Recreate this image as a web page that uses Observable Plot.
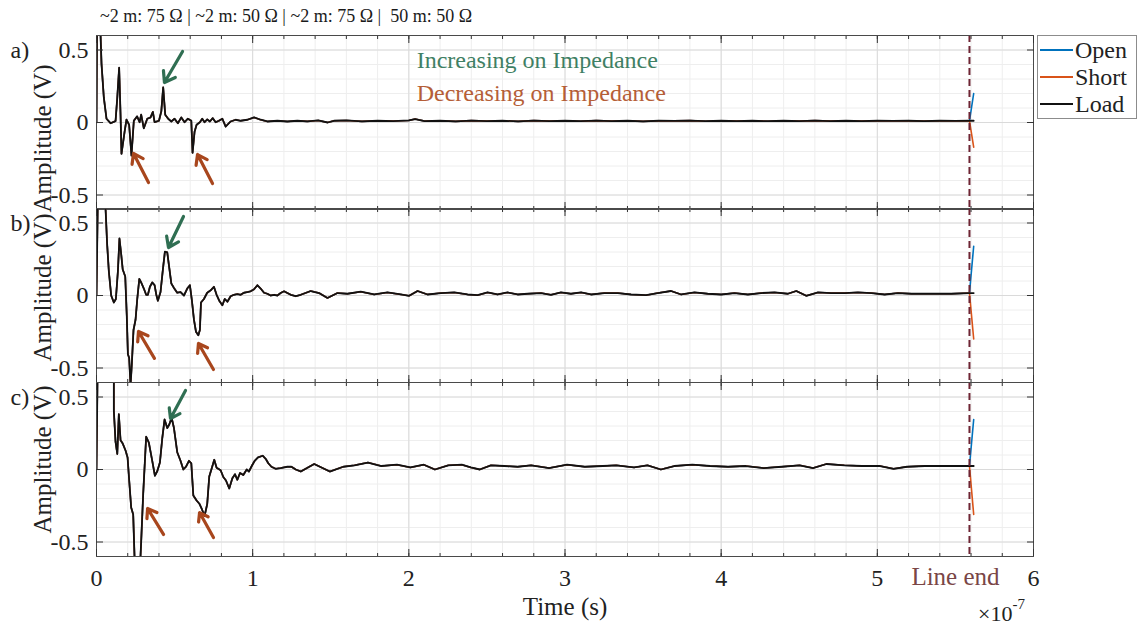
<!DOCTYPE html>
<html><head><meta charset="utf-8">
<script src="https://cdn.jsdelivr.net/npm/d3@7"></script>
<script src="https://cdn.jsdelivr.net/npm/@observablehq/plot@0.6"></script>
<style>
html,body{margin:0;padding:0;background:#fff;}
#root{position:relative;width:1141px;height:625px;overflow:hidden;font-family:"Liberation Serif",serif;color:#222;}
.panel{position:absolute;left:0;}
.panel svg{overflow:visible;}
#toptext{position:absolute;left:100px;top:6px;font-size:18px;white-space:pre;color:#1a1a1a;}
#toptext span.sep{color:#1a1a1a;}
#legend{position:absolute;left:1037px;top:35px;width:100px;height:84px;border:1px solid #8c8c8c;background:#fff;box-sizing:border-box;}
.lg{position:absolute;left:2px;height:26px;display:flex;align-items:center;font-size:24px;}
.lg span.sw{display:inline-block;width:33px;height:2px;margin-right:2px;}
#xexp{position:absolute;left:978px;top:601px;font-size:22px;line-height:1;white-space:nowrap;}
#xexp sup{font-size:15px;position:relative;top:-4px;}
</style></head>
<body><div id="root"></div>
<script>
// ---------- data ----------
const topSegments = ["~2 m: 75 Ω", "~2 m: 50 Ω", "~2 m: 75 Ω", " 50 m: 50 Ω"];
const panelLabels = ["a)", "b)", "c)"];
const seriesNames = ["Open", "Short", "Load"];
const seriesColors = ["#0072BD", "#D95319", "#111111"];
const xTicks = [0, 1, 2, 3, 4, 5, 6];
const xMinorTicks = d3.range(0, 6.0001, 0.2).map(d => +d.toFixed(1));
const yTicks = [-0.5, 0, 0.5];
const yMinorTicks = [-0.6,-0.5,-0.4,-0.3,-0.2,-0.1,0,0.1,0.2,0.3,0.4,0.5,0.6];
const lineEnd = 5.59;           // ×1e-7 s
const annotTexts = ["Increasing on Impedance", "Decreasing on Impedance"];
const xLabel = "Time (s)";
const yLabel = "Amplitude (V)";

// time in units of 1e-7 s, amplitude in V
const tA = [0,0.004,0.02,0.032,0.047,0.064,0.09,0.122,0.133,0.145,0.154,0.16,0.18,0.192,0.209,0.224,0.239,0.26,0.276,0.286,0.303,0.325,0.346,0.361,0.372,0.4,0.415,0.427,0.44,0.459,0.479,0.5,0.521,0.543,0.564,0.585,0.607,0.615,0.628,0.641,0.662,0.677,0.692,0.709,0.726,0.744,0.763,0.784,0.806,0.827,0.859,0.891,0.923,0.966,1.009,1.051,1.094,1.158,1.222,1.286,1.35,1.42,1.48,1.52,1.6,1.7,1.8,1.9,2.0,2.04,2.1,2.2,2.3,2.4,2.5,2.6,2.7,2.8,2.9,3.0,3.1,3.2,3.3,3.4,3.5,3.6,3.7,3.8,3.9,4.0,4.1,4.2,4.3,4.4,4.5,4.6,4.7,4.8,4.9,5.0,5.1,5.2,5.3,5.4,5.5,5.59,5.617];
const loadA = [0,0.8,0.8,0.406,0.171,0.026,-0.005,0.01,0.17,0.378,0.05,-0.216,-0.063,0.02,-0.016,-0.228,0.012,0.042,0.002,0.054,-0.04,0.026,0.035,0.073,0.002,0.012,0.077,0.242,0.054,0.026,0.007,0.026,-0.005,0.035,0.002,0.026,0.012,-0.209,-0.063,-0.016,0.002,0.026,0.002,0.021,0.007,0.03,0.002,0.012,0.026,-0.028,0.007,0.019,0.012,0.019,0.035,0.019,0.007,0.012,0.007,0.012,0.008,0.014,0.0,0.012,0.014,0.008,0.012,0.01,0.014,0.024,0.01,0.012,0.008,0.013,0.01,0.012,0.008,0.013,0.01,0.012,0.009,0.013,0.01,0.012,0.008,0.012,0.011,0.013,0.009,0.012,0.01,0.012,0.009,0.012,0.01,0.013,0.01,0.012,0.01,0.012,0.011,0.012,0.01,0.012,0.011,0.012,0.012];

const tB = [0,0.01,0.05,0.058,0.068,0.079,0.094,0.111,0.124,0.137,0.147,0.158,0.168,0.184,0.194,0.201,0.209,0.218,0.226,0.237,0.25,0.261,0.274,0.286,0.303,0.318,0.329,0.342,0.357,0.372,0.383,0.393,0.41,0.425,0.438,0.453,0.466,0.479,0.496,0.517,0.538,0.56,0.581,0.598,0.611,0.624,0.637,0.652,0.662,0.669,0.688,0.709,0.731,0.752,0.769,0.786,0.806,0.821,0.838,0.859,0.88,0.902,0.923,0.944,0.966,0.987,1.009,1.03,1.051,1.073,1.094,1.115,1.137,1.158,1.179,1.201,1.222,1.244,1.276,1.308,1.372,1.425,1.479,1.543,1.607,1.692,1.778,1.863,1.949,2.002,2.056,2.12,2.205,2.291,2.376,2.44,2.504,2.568,2.632,2.697,2.761,2.846,2.91,2.974,3.038,3.103,3.167,3.252,3.338,3.423,3.519,3.594,3.679,3.744,3.829,3.915,4.0,4.085,4.171,4.256,4.342,4.427,4.481,4.545,4.62,4.705,4.791,4.876,4.962,5.047,5.132,5.218,5.303,5.389,5.474,5.59,5.617];
const loadB = [0,0.8,0.8,0.6,0.357,0.167,0,-0.048,-0.024,0.167,0.393,0.286,0.179,0.131,-0.143,-0.405,-0.429,-0.62,-0.476,-0.238,-0.167,-0.024,0.114,0.09,0.048,0.005,0.005,0.06,0.09,0.071,0.005,-0.036,0.024,0.179,0.302,0.298,0.19,0.083,0.052,0.019,0.024,0,0.048,0.071,-0.036,-0.167,-0.25,-0.274,-0.238,-0.048,-0.024,0.019,0.036,0.06,0.005,-0.036,-0.067,-0.024,-0.043,-0.005,0.005,0.01,0.005,0.019,0.024,0.029,0.043,0.071,0.048,0.019,0.012,0,0.005,0,0.017,0.029,0.017,0.005,-0.005,0.005,0.031,0.017,-0.017,0.017,0.012,0.026,0.007,0.021,0.007,-0.002,0.031,0.007,0.017,0.021,0.007,0.002,0.021,0.007,0.021,0.007,0.012,0.017,0.005,0.021,0.012,0.021,0.007,0.017,0.017,0.007,0.002,0.017,0.031,0.007,0.021,0.012,0.007,0.017,0.007,0.017,0.021,0.012,0.031,-0.002,0.021,0.017,0.017,0.021,0.017,0.007,0.017,0.012,0.012,0.012,0.012,0.017,0.017];

const tC = [0,0.008,0.111,0.111,0.122,0.133,0.143,0.154,0.168,0.186,0.199,0.209,0.222,0.235,0.246,0.278,0.286,0.299,0.318,0.335,0.357,0.374,0.389,0.406,0.421,0.436,0.453,0.466,0.481,0.496,0.517,0.538,0.556,0.573,0.592,0.607,0.62,0.641,0.66,0.675,0.692,0.709,0.722,0.739,0.754,0.769,0.795,0.812,0.829,0.85,0.87,0.887,0.902,0.919,0.94,0.962,0.976,0.994,1.013,1.034,1.064,1.085,1.1,1.12,1.147,1.179,1.222,1.248,1.276,1.308,1.394,1.494,1.58,1.652,1.738,1.824,1.924,2.01,2.096,2.167,2.253,2.339,2.397,2.454,2.526,2.612,2.697,2.783,2.898,3.013,3.127,3.242,3.328,3.442,3.528,3.614,3.7,3.815,3.929,4.044,4.158,4.273,4.388,4.502,4.588,4.674,4.789,4.903,5.018,5.104,5.19,5.304,5.419,5.59,5.617];
const loadC = [0,0.8,0.8,0.405,0.19,0.107,0.381,0.202,0.179,0.131,0.083,-0.071,-0.262,-0.31,-0.69,-0.69,-0.5,-0.167,0.226,0.186,0.06,-0.043,-0.012,0.048,0.214,0.345,0.286,0.31,0.357,0.286,0.119,0.06,0,0.019,0.06,0.043,-0.179,-0.214,-0.238,-0.274,-0.321,-0.238,-0.048,0.012,0.067,0.012,-0.005,-0.052,-0.076,-0.131,-0.06,-0.033,-0.071,-0.024,-0.038,0,-0.014,0.024,0.06,0.083,0.095,0.071,0.043,0.019,0.005,0.01,0.019,0.019,0,-0.014,0.038,-0.014,0.019,0.029,0.048,0.024,0.033,0.014,0.033,0.0,0.029,0.033,0.014,0.0,0.029,0.024,0.019,0.029,0.01,0.033,0.019,0.024,0.029,0.014,0.029,0.0,0.024,0.033,0.024,0.019,0.024,0.01,0.019,0.029,0.01,0.038,0.029,0.024,0.024,0.005,0.019,0.024,0.024,0.024,0.024];

const tailT = [5.59, 5.617];
const openTails  = [[0.012, 0.2], [0.017, 0.34], [0.024, 0.345]];
const shortTails = [[0.012, -0.17], [0.017, -0.3], [0.024, -0.31]];

// arrows: [x1, y1, x2, y2, kind]  (data units)
const arrowsA = [[0.551,0.49,0.435,0.276,"inc"],[0.333,-0.414,0.237,-0.214,"dec"],[0.743,-0.421,0.647,-0.221,"dec"]];
const arrowsB = [[0.557,0.545,0.461,0.331,"inc"],[0.371,-0.434,0.269,-0.248,"dec"],[0.749,-0.51,0.653,-0.331,"dec"]];
const arrowsC = [[0.57,0.545,0.474,0.352,"inc"],[0.429,-0.448,0.327,-0.269,"dec"],[0.749,-0.469,0.66,-0.297,"dec"]];

// ---------- build ----------
const green = "#2f6e52", orange = "#a8461d";
const greenText = "#3f7f64", orangeText = "#b55e37";
const root = document.getElementById("root");

const rows = (t, v) => t.map((ti, i) => ({t: ti, v: v[i]}));

const panels = [
  {t: tA, v: loadA, arrows: arrowsA, top: 35, yOff: 16},
  {t: tB, v: loadB, arrows: arrowsB, top: 208, yOff: -8},
  {t: tC, v: loadC, arrows: arrowsC, top: 382, yOff: -10}
];

panels.forEach((p, k) => {
  const load = rows(p.t, p.v);
  const base = load.filter(d => d.t < lineEnd);
  const open = base.concat(rows(tailT, openTails[k]));
  const short = base.concat(rows(tailT, shortTails[k]));
  const last = k === 2;
  const arrows = p.arrows.map(a => ({x1: a[0], y1: a[1], x2: a[2], y2: a[3], kind: a[4]}));
  const marks = [
    Plot.gridX({ticks: xMinorTicks, stroke: "#eeeeee", strokeOpacity: 1}),
    Plot.gridY({ticks: yMinorTicks, stroke: "#eeeeee", strokeOpacity: 1}),
    Plot.gridX({ticks: xTicks, stroke: "#dadada", strokeOpacity: 1}),
    Plot.gridY({ticks: yTicks, stroke: "#dadada", strokeOpacity: 1}),
    Plot.line(open, {x: "t", y: "v", stroke: seriesColors[0], strokeWidth: 1.6, clip: true}),
    Plot.line(short, {x: "t", y: "v", stroke: seriesColors[1], strokeWidth: 1.6, clip: true}),
    Plot.line(load, {x: "t", y: "v", stroke: seriesColors[2], strokeWidth: 1.8, clip: true}),
    Plot.ruleX([lineEnd], {stroke: "#6e2534", strokeWidth: 2, strokeDasharray: "7,4"}),
    Plot.arrow(arrows, {x1: "x1", y1: "y1", x2: "x2", y2: "y2",
      stroke: d => d.kind === "inc" ? green : orange, strokeWidth: 3.2, headLength: 11, headAngle: 70}),
    Plot.frame({stroke: "#4a4a4a", strokeWidth: 1}),
    Plot.axisX({ticks: xMinorTicks, anchor: "bottom", tickSize: -3, tickFormat: () => "", label: null, stroke: "#333"}),
    Plot.axisX({ticks: xMinorTicks, anchor: "top", tickSize: -3, tickFormat: () => "", label: null, stroke: "#333"}),
    Plot.axisX({ticks: xTicks, anchor: "bottom", tickSize: -7, tickFormat: () => "", label: null, stroke: "#333"}),
    Plot.axisX({ticks: xTicks, anchor: "top", tickSize: -7, tickFormat: () => "", label: null, stroke: "#333"}),
    Plot.axisY({ticks: yTicks, anchor: "left", tickSize: -7, tickFormat: () => "", label: null, stroke: "#333"}),
    Plot.axisY({ticks: yTicks, anchor: "right", tickSize: -7, tickFormat: () => "", label: null, stroke: "#333"}),
    Plot.axisY({ticks: yTicks, anchor: "left", tickSize: 0, tickPadding: 8, tickFormat: d => String(d), label: null, fontSize: 24, fill: "#222"}),
    Plot.text([panelLabels[k]], {text: d => d, frameAnchor: "top-left", dx: -86, dy: 15, textAnchor: "start", lineAnchor: "middle", fontSize: 24, fill: "#222"}),
    Plot.text([yLabel], {text: d => d, frameAnchor: "left", dx: -54, dy: p.yOff, rotate: -90, textAnchor: "middle", lineAnchor: "middle", fontSize: 25, fill: "#222"})
  ];
  if (k === 0) {
    marks.push(Plot.text(annotTexts, {text: d => d, x: [2.05, 2.05], y: [0.43, 0.2],
      fill: [greenText, orangeText], textAnchor: "start", lineAnchor: "middle", fontSize: 24}));
  }
  if (last) {
    marks.push(Plot.axisX({ticks: xTicks, anchor: "bottom", tickSize: 0, tickPadding: 12, tickFormat: d => String(d), label: null, fontSize: 24, fill: "#222"}));
    marks.push(Plot.text([xLabel], {text: d => d, frameAnchor: "bottom", dy: 50, textAnchor: "middle", lineAnchor: "middle", fontSize: 25, fill: "#222"}));
    marks.push(Plot.text([lineEnd], {x: d => d, text: () => "Line end", frameAnchor: "bottom", dy: 20, dx: -14, textAnchor: "middle", lineAnchor: "middle", fontSize: 25, fill: "#7a4646"}));
  }
  const chart = Plot.plot({
    width: 1141,
    height: 174 + (last ? 69 : 0),
    marginLeft: 96, marginRight: 108, marginTop: 0, marginBottom: last ? 69 : 0,
    x: {domain: [0, 6]},
    y: {domain: [-0.6, 0.6]},
    style: {background: "transparent", overflow: "visible", fontFamily: "Liberation Serif", fontSize: "24px", color: "#222"},
    marks
  });
  const div = document.createElement("div");
  div.className = "panel";
  div.style.top = p.top + "px";
  div.appendChild(chart);
  root.appendChild(div);
});

// top text
const tt = document.createElement("div");
tt.id = "toptext";
topSegments.forEach((s, i) => {
  if (i > 0) {
    const sep = document.createElement("span");
    sep.className = "sep";
    sep.textContent = " | ";
    tt.appendChild(sep);
  }
  const seg = document.createElement("span");
  seg.textContent = s;
  tt.appendChild(seg);
});
root.appendChild(tt);

// legend
const lg = document.createElement("div");
lg.id = "legend";
seriesNames.forEach((n, i) => {
  const e = document.createElement("div");
  e.className = "lg";
  e.style.top = (i * 27 + 1) + "px";
  e.innerHTML = `<span class="sw" style="background:${seriesColors[i]}"></span>${n}`;
  lg.appendChild(e);
});
root.appendChild(lg);

// exponent
const ex = document.createElement("div");
ex.id = "xexp";
ex.innerHTML = "×10<sup>-7</sup>";
root.appendChild(ex);
</script>
</body></html>
